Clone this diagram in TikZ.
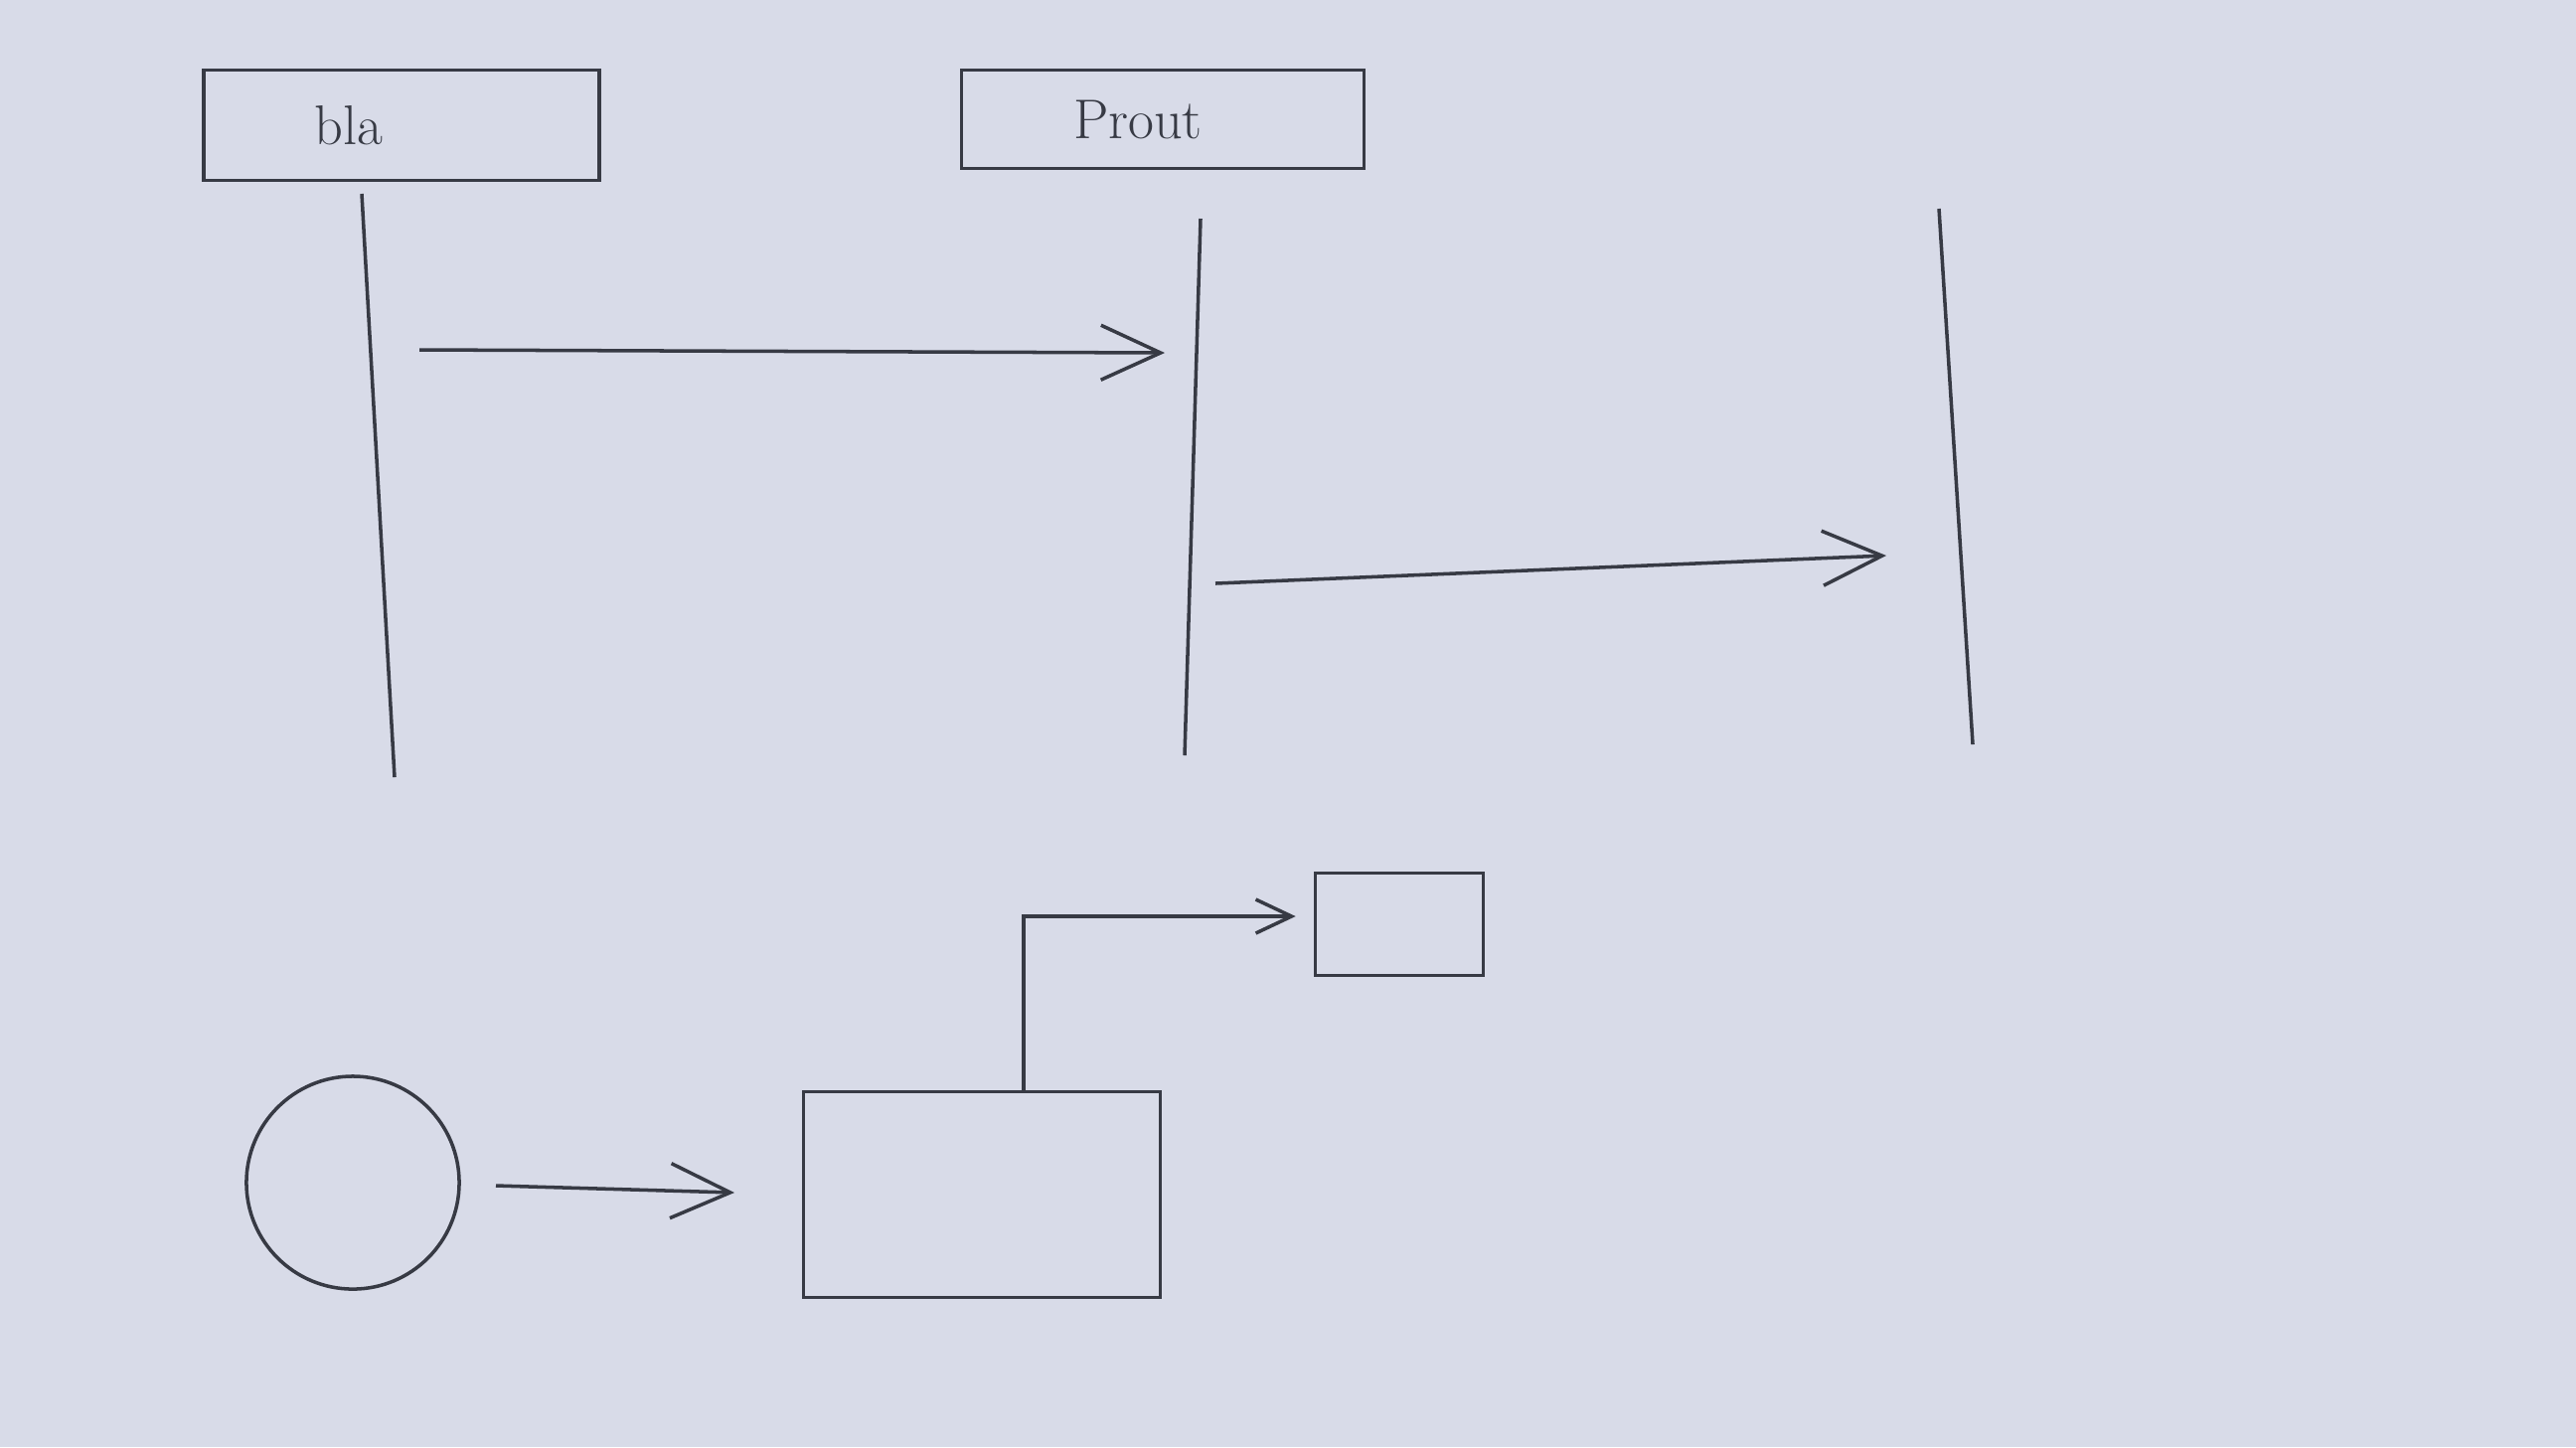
\documentclass[tikz,border=0pt]{standalone}
\usetikzlibrary{arrows.meta}
\definecolor{paper}{RGB}{216,219,232}
\definecolor{pencil}{RGB}{55,58,68}
\begin{document}
\begin{tikzpicture}[x=0.01cm,y=-0.01cm,
  pen/.style={draw=pencil,line width=1pt},
  headbox/.style={pen,rectangle,inner sep=0pt,font=\fontsize{16}{18}\selectfont,text=pencil},
  plainbox/.style={pen,rectangle,inner sep=0pt},
  bigarrow/.style={pen,-{Straight Barb[length=0.6cm,width=0.55cm,line width=1pt]}},
  smallarrow/.style={pen,-{Straight Barb[length=0.36cm,width=0.34cm,line width=1pt]}}]
\fill[paper] (0,0) rectangle (2592,1456);
\useasboundingbox (0,0) rectangle (2592,1456);
% header boxes
\node[headbox,minimum width=3.98cm,minimum height=1.11cm] (bla) at (404,126) {bla\hspace*{1.06cm}};
\node[headbox,minimum width=4.05cm,minimum height=0.99cm] (prout) at (1170,120) {Prout\hspace*{0.5cm}};
% lifelines
\coordinate (l1t) at (364,195); \coordinate (l1b) at (397,782);
\coordinate (l2t) at (1208,220); \coordinate (l2b) at (1192,760);
\coordinate (l3t) at (1951,210); \coordinate (l3b) at (1985,749);
\draw[pen] (l1t) -- (l1b);
\draw[pen] (l2t) -- (l2b);
\draw[pen] (l3t) -- (l3b);
% messages
\coordinate (m1s) at (422,352); \coordinate (m1e) at (1172,355);
\coordinate (m2s) at (1223,587); \coordinate (m2e) at (1898,559);
\draw[bigarrow] (m1s) -- (m1e);
\draw[bigarrow] (m2s) -- (m2e);
% bottom shapes
\node[pen,circle,minimum size=2.14cm,inner sep=0pt] (circ) at (355,1190) {};
\node[plainbox,minimum width=3.59cm,minimum height=2.07cm] (big) at (988,1202) {};
\node[plainbox,minimum width=1.69cm,minimum height=1.03cm] (small) at (1408,930) {};
\coordinate (a1s) at (499,1193); \coordinate (a1e) at (739,1200);
\draw[bigarrow] (a1s) -- (a1e);
\coordinate (elbow) at (1030,922);
\draw[smallarrow] (big.north -| elbow) -- (elbow) -- ([xshift=-0.18cm]small.west |- elbow);
\end{tikzpicture}
\end{document}
